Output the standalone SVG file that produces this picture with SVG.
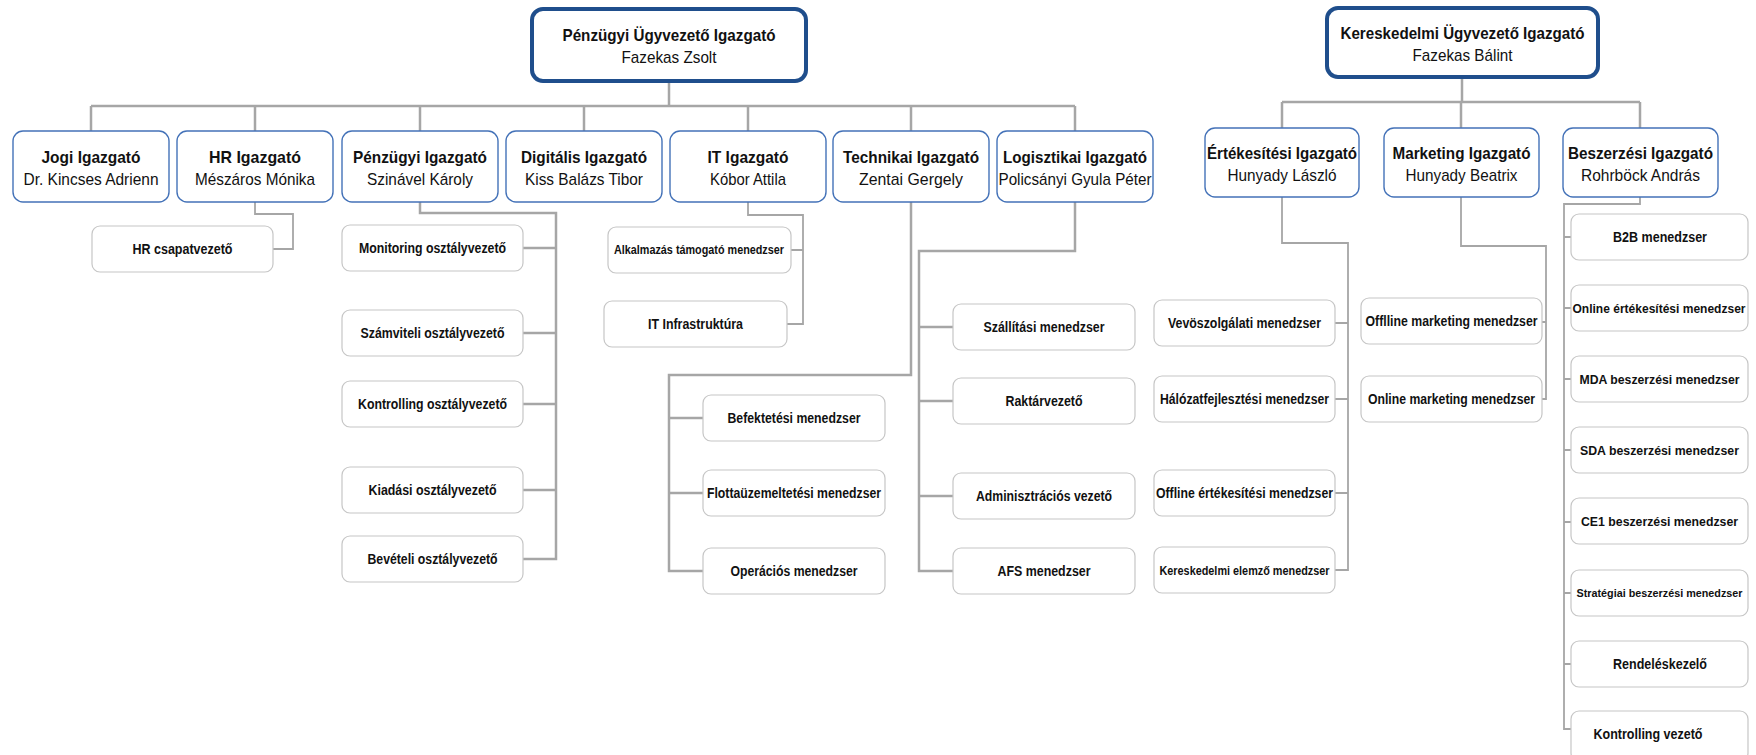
<svg xmlns="http://www.w3.org/2000/svg" width="1756" height="755" viewBox="0 0 1756 755">
<style>
.top{fill:#fff;stroke:#1F4E8C;stroke-width:4}
.dir{fill:#fff;stroke:#4472B8;stroke-width:1.4}
.ch{fill:#fff;stroke:#C6C6C6;stroke-width:1.2}
.c{fill:none;stroke:#A6A6A6;stroke-width:2.5}
.c2{fill:none;stroke:#A6A6A6;stroke-width:1.8}
text{font-family:"Liberation Sans Narrow","Liberation Sans",Arial,sans-serif;fill:#111;text-anchor:middle}
.b{font-weight:bold;font-size:17px}
.r{font-size:17px}
.t{font-weight:bold;font-size:14px}
.s{font-weight:bold;font-size:12px}
.bz{font-weight:bold;font-size:12.5px}
.xs{font-weight:bold;font-size:11.3px}
</style>
<rect width="1756" height="755" fill="#fff"/>
<g id="connectors">
<path class="c" d="M669,81V106M91,106H1075M91,106V131M255,106V131M420,106V131M584,106V131M748,106V131M911,106V131M1075,106V131"/>
<path class="c" d="M1462,77V102M1282,102H1640M1282,102V128M1461,102V128M1640,102V128"/>
<path class="c2" d="M255,202V214H293V249H273"/>
<path class="c" d="M420,202V213H556V559H523M523,248H556M523,333H556M523,404H556M523,490H556"/>
<path class="c2" d="M748,202V215H803V324H787M791,250H803"/>
<path class="c" d="M911,202V375H669V571H703M669,418H703M669,493H703"/>
<path class="c" d="M1075,202V251H919V571H953M919,327H953M919,401H953M919,496H953"/>
<path class="c2" d="M1282,197V243H1348V570H1335M1335,323H1348M1335,399H1348M1335,493H1348"/>
<path class="c2" d="M1461,197V246H1546V399H1542M1542,322H1546"/>
<path class="c2" d="M1640,197V204H1564V729H1571M1564,237H1571M1564,308H1571M1564,379H1571M1564,450H1571M1564,522H1571M1564,593H1571M1564,664H1571"/>
</g>
<g id="n-penzugyi-ugyv"><rect class="top" x="532" y="9" width="274" height="72" rx="11"/><text class="b" x="669" y="41" textLength="213" lengthAdjust="spacingAndGlyphs">Pénzügyi Ügyvezető Igazgató</text><text class="r" x="669" y="63" textLength="95" lengthAdjust="spacingAndGlyphs">Fazekas Zsolt</text></g>
<g id="n-keresk-ugyv"><rect class="top" x="1327" y="8" width="271" height="69" rx="11"/><text class="b" x="1462.5" y="39" textLength="244" lengthAdjust="spacingAndGlyphs">Kereskedelmi Ügyvezető Igazgató</text><text class="r" x="1462.5" y="61" textLength="100" lengthAdjust="spacingAndGlyphs">Fazekas Bálint</text></g>
<g id="n-jogi"><rect class="dir" x="13" y="131" width="156" height="71" rx="10"/><text class="b" x="91" y="163" textLength="99" lengthAdjust="spacingAndGlyphs">Jogi Igazgató</text><text class="r" x="91" y="185" textLength="135" lengthAdjust="spacingAndGlyphs">Dr. Kincses Adrienn</text></g>
<g id="n-hr"><rect class="dir" x="177" y="131" width="156" height="71" rx="10"/><text class="b" x="255" y="163" textLength="92" lengthAdjust="spacingAndGlyphs">HR Igazgató</text><text class="r" x="255" y="185" textLength="120" lengthAdjust="spacingAndGlyphs">Mészáros Mónika</text></g>
<g id="n-penzugyi"><rect class="dir" x="342" y="131" width="156" height="71" rx="10"/><text class="b" x="420" y="163" textLength="134" lengthAdjust="spacingAndGlyphs">Pénzügyi Igazgató</text><text class="r" x="420" y="185" textLength="106" lengthAdjust="spacingAndGlyphs">Szinável Károly</text></g>
<g id="n-digitalis"><rect class="dir" x="506" y="131" width="156" height="71" rx="10"/><text class="b" x="584" y="163" textLength="126" lengthAdjust="spacingAndGlyphs">Digitális Igazgató</text><text class="r" x="584" y="185" textLength="118" lengthAdjust="spacingAndGlyphs">Kiss Balázs Tibor</text></g>
<g id="n-it"><rect class="dir" x="670" y="131" width="156" height="71" rx="10"/><text class="b" x="748" y="163" textLength="81" lengthAdjust="spacingAndGlyphs">IT Igazgató</text><text class="r" x="748" y="185" textLength="76" lengthAdjust="spacingAndGlyphs">Kóbor Attila</text></g>
<g id="n-tech"><rect class="dir" x="833" y="131" width="156" height="71" rx="10"/><text class="b" x="911" y="163" textLength="136" lengthAdjust="spacingAndGlyphs">Technikai Igazgató</text><text class="r" x="911" y="185" textLength="104" lengthAdjust="spacingAndGlyphs">Zentai Gergely</text></g>
<g id="n-log"><rect class="dir" x="997" y="131" width="156" height="71" rx="10"/><text class="b" x="1075" y="163" textLength="144" lengthAdjust="spacingAndGlyphs">Logisztikai Igazgató</text><text class="r" x="1075" y="185" textLength="153" lengthAdjust="spacingAndGlyphs">Policsányi Gyula Péter</text></g>
<g id="n-ert"><rect class="dir" x="1205" y="128" width="154" height="69" rx="10"/><text class="b" x="1282" y="159" textLength="150" lengthAdjust="spacingAndGlyphs">Értékesítési Igazgató</text><text class="r" x="1282" y="181" textLength="109" lengthAdjust="spacingAndGlyphs">Hunyady László</text></g>
<g id="n-mark"><rect class="dir" x="1384" y="128" width="155" height="69" rx="10"/><text class="b" x="1461.5" y="159" textLength="138" lengthAdjust="spacingAndGlyphs">Marketing Igazgató</text><text class="r" x="1461.5" y="181" textLength="112" lengthAdjust="spacingAndGlyphs">Hunyady Beatrix</text></g>
<g id="n-besz"><rect class="dir" x="1563" y="128" width="155" height="69" rx="10"/><text class="b" x="1640.5" y="159" textLength="145" lengthAdjust="spacingAndGlyphs">Beszerzési Igazgató</text><text class="r" x="1640.5" y="181" textLength="119" lengthAdjust="spacingAndGlyphs">Rohrböck András</text></g>
<g id="n-hr-csap"><rect class="ch" x="92" y="226" width="181" height="46" rx="8"/><text class="t" x="182.5" y="254" textLength="100" lengthAdjust="spacingAndGlyphs">HR csapatvezető</text></g>
<g id="n-monitoring"><rect class="ch" x="342" y="225" width="181" height="46" rx="8"/><text class="t" x="432.5" y="253" textLength="147" lengthAdjust="spacingAndGlyphs">Monitoring osztályvezető</text></g>
<g id="n-szamviteli"><rect class="ch" x="342" y="310" width="181" height="46" rx="8"/><text class="t" x="432.5" y="338" textLength="144" lengthAdjust="spacingAndGlyphs">Számviteli osztályvezető</text></g>
<g id="n-kontrolling"><rect class="ch" x="342" y="381" width="181" height="46" rx="8"/><text class="t" x="432.5" y="409" textLength="149" lengthAdjust="spacingAndGlyphs">Kontrolling osztályvezető</text></g>
<g id="n-kiadasi"><rect class="ch" x="342" y="467" width="181" height="46" rx="8"/><text class="t" x="432.5" y="495" textLength="128" lengthAdjust="spacingAndGlyphs">Kiadási osztályvezető</text></g>
<g id="n-beveteli"><rect class="ch" x="342" y="536" width="181" height="46" rx="8"/><text class="t" x="432.5" y="564" textLength="130" lengthAdjust="spacingAndGlyphs">Bevételi osztályvezető</text></g>
<g id="n-alkalmazas"><rect class="ch" x="608" y="227" width="183" height="46" rx="8"/><text class="s" x="699" y="254" textLength="170" lengthAdjust="spacingAndGlyphs">Alkalmazás támogató menedzser</text></g>
<g id="n-itinfra"><rect class="ch" x="604" y="301" width="183" height="46" rx="8"/><text class="t" x="695.5" y="329" textLength="95" lengthAdjust="spacingAndGlyphs">IT Infrastruktúra</text></g>
<g id="n-befektetesi"><rect class="ch" x="703" y="395" width="182" height="46" rx="8"/><text class="t" x="794" y="423" textLength="133" lengthAdjust="spacingAndGlyphs">Befektetési menedzser</text></g>
<g id="n-flotta"><rect class="ch" x="703" y="470" width="182" height="46" rx="8"/><text class="t" x="794" y="498" textLength="174" lengthAdjust="spacingAndGlyphs">Flottaüzemeltetési menedzser</text></g>
<g id="n-operacios"><rect class="ch" x="703" y="548" width="182" height="46" rx="8"/><text class="t" x="794" y="576" textLength="127" lengthAdjust="spacingAndGlyphs">Operációs menedzser</text></g>
<g id="n-szallitasi"><rect class="ch" x="953" y="304" width="182" height="46" rx="8"/><text class="t" x="1044" y="332" textLength="121" lengthAdjust="spacingAndGlyphs">Szállítási menedzser</text></g>
<g id="n-raktar"><rect class="ch" x="953" y="378" width="182" height="46" rx="8"/><text class="t" x="1044" y="406" textLength="77" lengthAdjust="spacingAndGlyphs">Raktárvezető</text></g>
<g id="n-admin"><rect class="ch" x="953" y="473" width="182" height="46" rx="8"/><text class="t" x="1044" y="501" textLength="136" lengthAdjust="spacingAndGlyphs">Adminisztrációs vezető</text></g>
<g id="n-afs"><rect class="ch" x="953" y="548" width="182" height="46" rx="8"/><text class="t" x="1044" y="576" textLength="93" lengthAdjust="spacingAndGlyphs">AFS menedzser</text></g>
<g id="n-vevo"><rect class="ch" x="1154" y="300" width="181" height="46" rx="8"/><text class="t" x="1244.5" y="328" textLength="153" lengthAdjust="spacingAndGlyphs">Vevöszolgálati menedzser</text></g>
<g id="n-halozat"><rect class="ch" x="1154" y="376" width="181" height="46" rx="8"/><text class="t" x="1244.5" y="404" textLength="169" lengthAdjust="spacingAndGlyphs">Hálózatfejlesztési menedzser</text></g>
<g id="n-offline-ert"><rect class="ch" x="1154" y="470" width="181" height="46" rx="8"/><text class="t" x="1244.5" y="498" textLength="177" lengthAdjust="spacingAndGlyphs">Offline értékesítési menedzser</text></g>
<g id="n-keresk-elemzo"><rect class="ch" x="1154" y="547" width="181" height="46" rx="8"/><text class="s" x="1244.5" y="574.5" textLength="170" lengthAdjust="spacingAndGlyphs">Kereskedelmi elemző menedzser</text></g>
<g id="n-offline-mark"><rect class="ch" x="1361" y="298" width="181" height="46" rx="8"/><text class="t" x="1451.5" y="326" textLength="172" lengthAdjust="spacingAndGlyphs">Offlline marketing menedzser</text></g>
<g id="n-online-mark"><rect class="ch" x="1361" y="376" width="181" height="46" rx="8"/><text class="t" x="1451.5" y="404" textLength="167" lengthAdjust="spacingAndGlyphs">Online marketing menedzser</text></g>
<g id="n-b2b"><rect class="ch" x="1571" y="214" width="177" height="46" rx="8"/><text class="t" x="1660" y="242" textLength="94" lengthAdjust="spacingAndGlyphs">B2B menedzser</text></g>
<g id="n-online-ert"><rect class="ch" x="1571" y="285" width="177" height="46" rx="8"/><text class="bz" x="1659" y="312.5" textLength="173" lengthAdjust="spacingAndGlyphs">Online értékesítési menedzser</text></g>
<g id="n-mda"><rect class="ch" x="1571" y="356" width="177" height="46" rx="8"/><text class="bz" x="1659.5" y="383.5" textLength="160" lengthAdjust="spacingAndGlyphs">MDA beszerzési menedzser</text></g>
<g id="n-sda"><rect class="ch" x="1571" y="427" width="177" height="46" rx="8"/><text class="bz" x="1659.5" y="454.5" textLength="159" lengthAdjust="spacingAndGlyphs">SDA beszerzési menedzser</text></g>
<g id="n-ce1"><rect class="ch" x="1571" y="498" width="177" height="46" rx="8"/><text class="bz" x="1659.5" y="525.5" textLength="157" lengthAdjust="spacingAndGlyphs">CE1 beszerzési menedzser</text></g>
<g id="n-strategiai"><rect class="ch" x="1571" y="570" width="177" height="46" rx="8"/><text class="xs" x="1659.5" y="597" textLength="166" lengthAdjust="spacingAndGlyphs">Stratégiai beszerzési menedzser</text></g>
<g id="n-rendeles"><rect class="ch" x="1571" y="641" width="177" height="46" rx="8"/><text class="t" x="1660" y="669" textLength="94" lengthAdjust="spacingAndGlyphs">Rendeléskezelő</text></g>
<g id="n-kontrolling-vez"><rect class="ch" x="1571" y="711" width="177" height="50" rx="8"/><text class="t" x="1648" y="739" textLength="109" lengthAdjust="spacingAndGlyphs">Kontrolling vezető</text></g>
</svg>
